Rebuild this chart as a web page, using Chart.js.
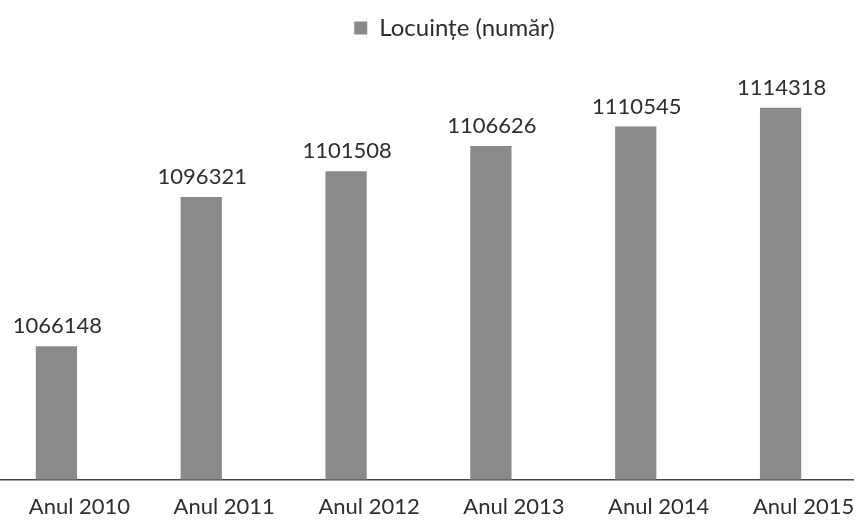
<!DOCTYPE html>
<html>
<head>
<meta charset="utf-8">
<script src="https://cdn.jsdelivr.net/npm/chart.js@4.4.0/dist/chart.umd.min.js"></script>
<style>
  html, body { margin: 0; padding: 0; background: #fff; overflow: hidden; }
  #wrap { position: absolute; left: -16px; top: 0; width: 872px; height: 542px; }
</style>
</head>
<body>
<div id="wrap"><canvas id="chartLocuinte"></canvas></div>
<script>
const ani = ["Anul 2010", "Anul 2011", "Anul 2012", "Anul 2013", "Anul 2014", "Anul 2015"];
const locuinte = [1066148, 1096321, 1101508, 1106626, 1110545, 1114318];
const numeSerie = "Locuințe (număr)";

const fontText = "Lato, 'Open Sans', sans-serif";

// valorile deasupra barelor
const eticheteValori = {
  id: "eticheteValori",
  afterDatasetsDraw(chart) {
    const ctx = chart.ctx;
    const meta = chart.getDatasetMeta(0);
    ctx.save();
    ctx.font = "22px " + fontText;
    ctx.fillStyle = "#2e2e2e";
    ctx.textAlign = "center";
    ctx.textBaseline = "bottom";
    meta.data.forEach((bar, i) => {
      ctx.fillText(String(chart.data.datasets[0].data[i]), bar.x + 1, bar.y - 9);
    });
    ctx.restore();
  }
};

// legenda e putin mutata spre dreapta, ca in original
const mutaLegenda = {
  id: "mutaLegenda",
  afterLayout(chart) {
    chart.legend.left += 36;
    chart.legend.right += 36;
  }
};

new Chart(document.getElementById("chartLocuinte"), {
  type: "bar",
  data: {
    labels: ani,
    datasets: [{
      label: numeSerie,
      data: locuinte,
      backgroundColor: "#8a8a8a",
      categoryPercentage: 1,
      barPercentage: 0.285
    }]
  },
  options: {
    responsive: true,
    maintainAspectRatio: false,
    animation: false,
    layout: { padding: { top: 6, bottom: 8, left: 0, right: 3 } },
    plugins: {
      legend: {
        position: "top",
        labels: {
          font: { family: fontText, size: 24 },
          color: "#2e2e2e",
          boxWidth: 13,
          boxHeight: 13,
          padding: 10
        }
      },
      tooltip: { enabled: false }
    },
    scales: {
      x: {
        grid: { display: false, drawTicks: false },
        border: { display: true, color: "#444", width: 1.5 },
        ticks: {
          font: { family: fontText, size: 22 },
          color: "#2e2e2e",
          padding: 14,
          labelOffset: 23,
          maxRotation: 0
        }
      },
      y: {
        display: false,
        min: 1039200,
        max: 1126000
      }
    }
  },
  plugins: [eticheteValori, mutaLegenda]
});
</script>
</body>
</html>
